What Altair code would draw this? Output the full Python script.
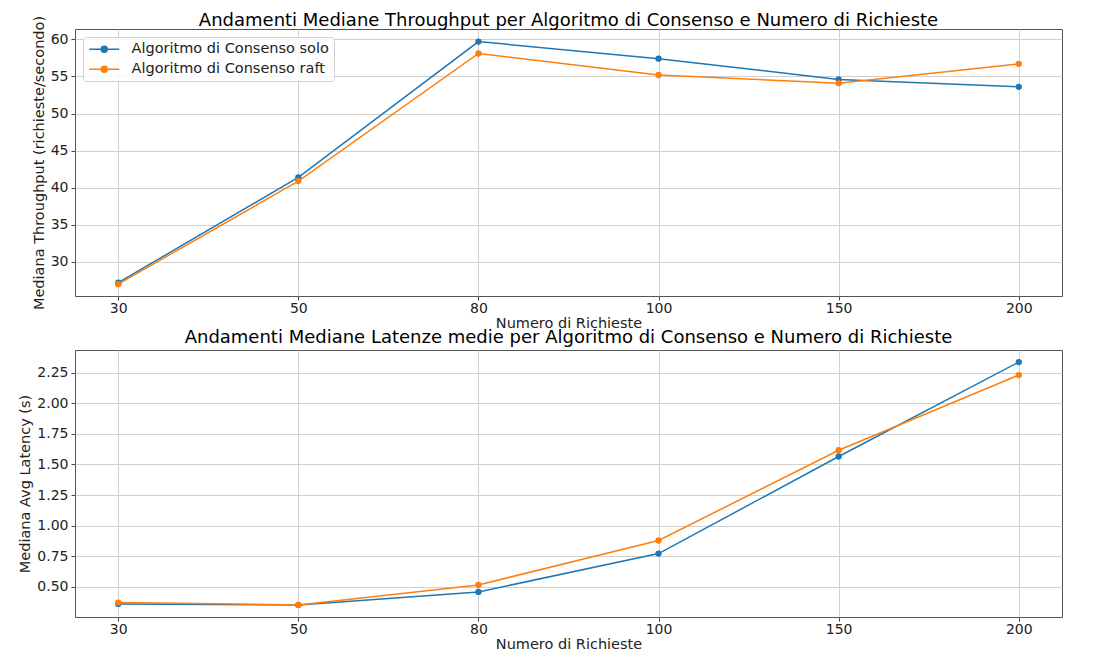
import altair as alt
import pandas as pd

richieste = ["30", "50", "80", "100", "150", "200"]
serie = ["Algoritmo di Consenso solo", "Algoritmo di Consenso raft"]
thr_solo = [27.2, 41.4, 59.7, 57.4, 54.6, 53.6]
thr_raft = [27.0, 40.9, 58.1, 55.2, 54.1, 56.7]
lat_solo = [0.361, 0.353, 0.459, 0.772, 1.565, 2.336]
lat_raft = [0.372, 0.353, 0.516, 0.879, 1.616, 2.230]
colori = ["#1f77b4", "#ff7f0e"]

FONT = "DejaVu Sans"


def make_df(a, b):
    rows = []
    for name, vals in zip(serie, [a, b]):
        for i, (r, v) in enumerate(zip(richieste, vals)):
            rows.append({"req": r, "val": v, "alg": name, "ord": i})
    return pd.DataFrame(rows)


legend_path = "M-1,0L4,0M1,0A0.5,0.5 0 1,1 2,0A0.5,0.5 0 1,1 1,0Z"


def panel(df, title, ytitle, ydom, yticks, yfmt, toff):
    x = alt.X("req:O", sort=richieste, title="Numero di Richieste",
              scale=alt.Scale(type="point", padding=0.24),
              axis=alt.Axis(labelAngle=0, titleFontSize=14.5, labelFontSize=14,
                            titlePadding=1, labelPadding=1))
    y = alt.Y("val:Q", title=ytitle,
              scale=alt.Scale(domain=ydom, nice=False, zero=False),
              axis=alt.Axis(values=yticks, format=yfmt, titleFontSize=14.5,
                            labelFontSize=14, titlePadding=4, labelPadding=3))
    color = alt.Color("alg:N", scale=alt.Scale(domain=serie, range=colori),
                      legend=alt.Legend(title=None, orient="top-left", offset=8,
                                        symbolType=legend_path, symbolSize=144,
                                        symbolStrokeWidth=1.5, labelOffset=29,
                                        labelFontSize=14.5, labelFont=FONT,
                                        labelLimit=500,
                                        rowPadding=5, padding=5,
                                        fillColor="rgba(255,255,255,0.8)",
                                        strokeColor="#d0d0d0", cornerRadius=3,
                                        labelColor="#222"))
    base = alt.Chart(df).encode(x=x, y=y, color=color, order="ord:Q")
    lines = base.mark_line(strokeWidth=1.5, clip=False)
    pts = base.mark_point(filled=True, size=40, opacity=1)
    return alt.layer(lines, pts).properties(
        width=987, height=267,
        title=alt.Title(title, fontSize=18, font=FONT, fontWeight="normal",
                        offset=toff, color="black", frame="group"))


top = panel(make_df(thr_solo, thr_raft),
            "Andamenti Mediane Throughput per Algoritmo di Consenso e Numero di Richieste",
            "Mediana Throughput (richieste/secondo)", [25.4, 61.4],
            [30, 35, 40, 45, 50, 55, 60], "d", -15)
bottom = panel(make_df(lat_solo, lat_raft),
               "Andamenti Mediane Latenze medie per Algoritmo di Consenso e Numero di Richieste",
               "Mediana Avg Latency (s)", [0.254, 2.435],
               [0.5, 0.75, 1.0, 1.25, 1.5, 1.75, 2.0, 2.25], ".2f", 3)

chart = alt.vconcat(top, bottom, spacing=54, bounds="flush").properties(
    padding={"left": 9, "top": 3, "right": 5, "bottom": 0}
).configure_view(stroke="#555555", strokeWidth=1).configure_axis(
    labelFont=FONT, titleFont=FONT, titleFontWeight="normal",
    labelColor="#222", titleColor="#222", gridColor="#d0d0d0", gridWidth=1,
    domain=False, tickColor="#444", tickSize=4, grid=True
)

chart.save("out.html", embed_options={"renderer": "svg", "actions": False})
